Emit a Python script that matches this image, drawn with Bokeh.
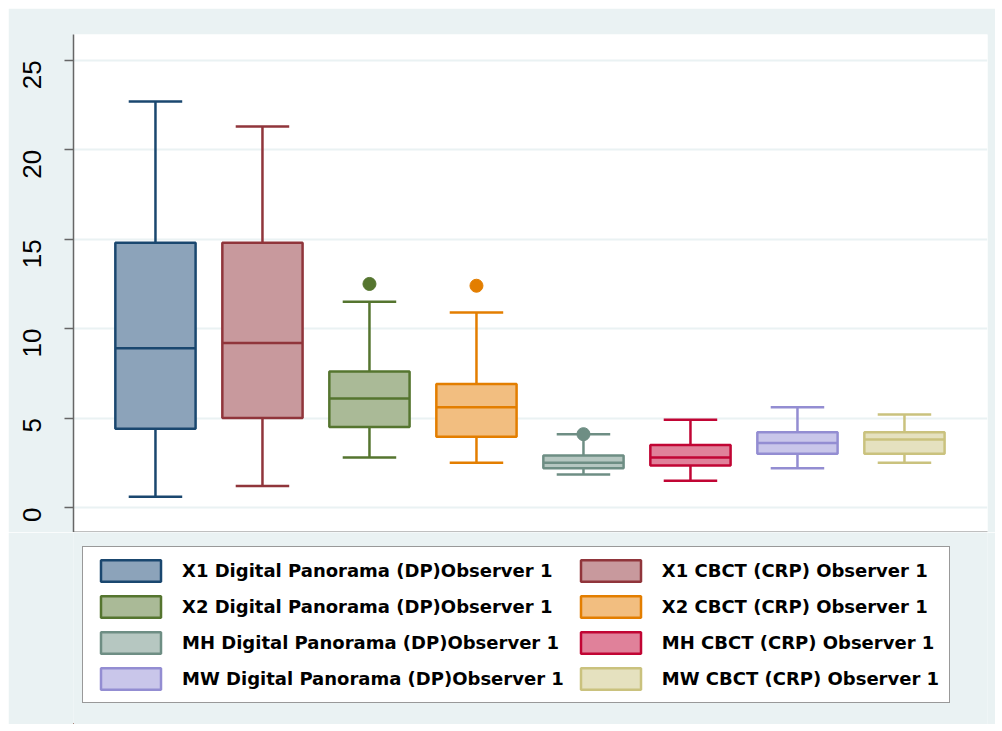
import math
from bokeh.plotting import figure
from bokeh.layouts import column
from bokeh.models import Range1d, Legend, LegendItem, ColumnDataSource, FixedTicker
from bokeh.embed import file_html
from bokeh.resources import INLINE

labels = [
    "X1 Digital Panorama (DP)Observer 1",
    "X1 CBCT (CRP) Observer 1",
    "X2 Digital Panorama (DP)Observer 1",
    "X2 CBCT (CRP) Observer 1",
    "MH Digital Panorama (DP)Observer 1",
    "MH CBCT (CRP) Observer 1",
    "MW Digital Panorama (DP)Observer 1",
    "MW CBCT (CRP) Observer 1",
]
positions = [1, 2, 3, 4, 5, 6, 7, 8]
upper = [22.7, 21.3, 11.5, 10.9, 4.1, 4.9, 5.6, 5.2]
q3 = [14.8, 14.8, 7.6, 6.9, 2.9, 3.5, 4.2, 4.2]
median = [8.9, 9.2, 6.1, 5.6, 2.5, 2.8, 3.6, 3.8]
q1 = [4.4, 5.0, 4.5, 3.95, 2.2, 2.35, 3.0, 3.0]
lower = [0.6, 1.2, 2.8, 2.5, 1.85, 1.5, 2.2, 2.5]
outlier_pos = [3, 4, 5]
outlier_val = [12.5, 12.4, 4.1]
y_ticks = [0, 5, 10, 15, 20, 25]

line_colors = ["#1A476F", "#90353B", "#55752F", "#E37E00",
               "#6E8E84", "#C10534", "#938DD2", "#CAC27E"]
fill_colors = ["#8CA3BA", "#C8999D", "#AABA97", "#F2BE80",
               "#B6C7C1", "#E0819A", "#C9C6EA", "#E5E1BF"]
outlier_colors = [line_colors[p - 1] for p in outlier_pos]
BG = "#EAF2F3"

BOX_W = 0.75
CAP_W = 0.5
LW = 2.5

src = ColumnDataSource(dict(
    x=positions, upper=upper, q3=q3, median=median, q1=q1, lower=lower,
    lc=line_colors, fc=fill_colors,
    cap_l=[x - CAP_W / 2 for x in positions], cap_r=[x + CAP_W / 2 for x in positions],
    box_l=[x - BOX_W / 2 for x in positions], box_r=[x + BOX_W / 2 for x in positions],
))

p = figure(width=987, height=524, output_backend="svg", toolbar_location=None,
           x_range=Range1d(0.234, 8.776), y_range=Range1d(-1.4, 26.45),
           min_border_left=65, min_border_top=26, min_border_right=8,
           min_border_bottom=0)
p.border_fill_color = BG
p.background_fill_color = "white"
p.outline_line_color = None

# whiskers and caps
p.segment(x0="x", y0="q3", x1="x", y1="upper", source=src, line_color="lc", line_width=LW)
p.segment(x0="x", y0="q1", x1="x", y1="lower", source=src, line_color="lc", line_width=LW)
p.segment(x0="cap_l", y0="upper", x1="cap_r", y1="upper", source=src, line_color="lc", line_width=LW)
p.segment(x0="cap_l", y0="lower", x1="cap_r", y1="lower", source=src, line_color="lc", line_width=LW)
# boxes and medians
p.vbar(x="x", width=BOX_W, top="q3", bottom="q1", source=src,
       fill_color="fc", line_color="lc", line_width=LW)
p.segment(x0="box_l", y0="median", x1="box_r", y1="median", source=src, line_color="lc", line_width=LW)
# outliers
p.scatter(x=outlier_pos, y=outlier_val, size=13, fill_color=outlier_colors,
          line_color=outlier_colors)

# axes
p.yaxis.ticker = FixedTicker(ticks=y_ticks)
p.yaxis.major_label_orientation = math.pi / 2
p.yaxis.major_label_text_font = "Liberation Sans"
p.yaxis.major_label_text_font_size = "26px"
p.yaxis.major_label_text_color = "black"
p.yaxis.major_label_standoff = 32
p.yaxis.major_tick_out = 9
p.yaxis.major_tick_in = 0
p.yaxis.minor_tick_line_color = None
p.yaxis.axis_line_color = "#666666"
p.yaxis.axis_line_width = 1.5
p.yaxis.major_tick_line_color = "#666666"
p.yaxis.major_tick_line_width = 1.5

p.xaxis.ticker = FixedTicker(ticks=[])
p.xaxis.major_label_text_font_size = "0px"
p.xaxis.major_tick_line_color = None
p.xaxis.minor_tick_line_color = None
p.xaxis.axis_line_color = "black"
p.xaxis.axis_line_width = 1.5

p.xgrid.grid_line_color = None
p.ygrid.ticker = FixedTicker(ticks=y_ticks)
p.ygrid.grid_line_color = BG
p.ygrid.grid_line_width = 2

# legend panel (own figure below the chart, same boxes source)
lg = figure(width=987, height=192, output_backend="svg", toolbar_location=None,
            x_range=Range1d(100, 101), y_range=Range1d(100, 101),
            x_axis_location=None, y_axis_location=None,
            min_border_left=0, min_border_top=0, min_border_right=0,
            min_border_bottom=0)
lg.grid.visible = False
lg.outline_line_color = None
lg.border_fill_color = BG
lg.background_fill_color = BG
lg_boxes = lg.vbar(x="x", width=BOX_W, top="q3", bottom="q1", source=src,
                   fill_color="fc", line_color="lc", line_width=LW)

order = [0, 2, 4, 6, 1, 3, 5, 7]
items = [LegendItem(label=labels[i], renderers=[lg_boxes], index=i) for i in order]
legend = Legend(items=items, ncols=2, location=(9, 21))
legend.glyph_width = 75
legend.glyph_height = 27
legend.label_height = 27
legend.label_standoff = 14
legend.spacing = 9
legend.padding = 10
legend.margin = 0
legend.label_text_font = "DejaVu Sans"
legend.label_text_font_style = "bold"
legend.label_text_font_size = "18px"
legend.label_text_color = "black"
legend.border_line_color = "#333333"
legend.border_line_width = 1.5
legend.background_fill_color = "white"
legend.background_fill_alpha = 1.0
lg.add_layout(legend, "center")

layout = column(p, lg, spacing=0, margin=(8, 0, 0, 8))
open("out.html", "w").write(file_html(layout, INLINE))
